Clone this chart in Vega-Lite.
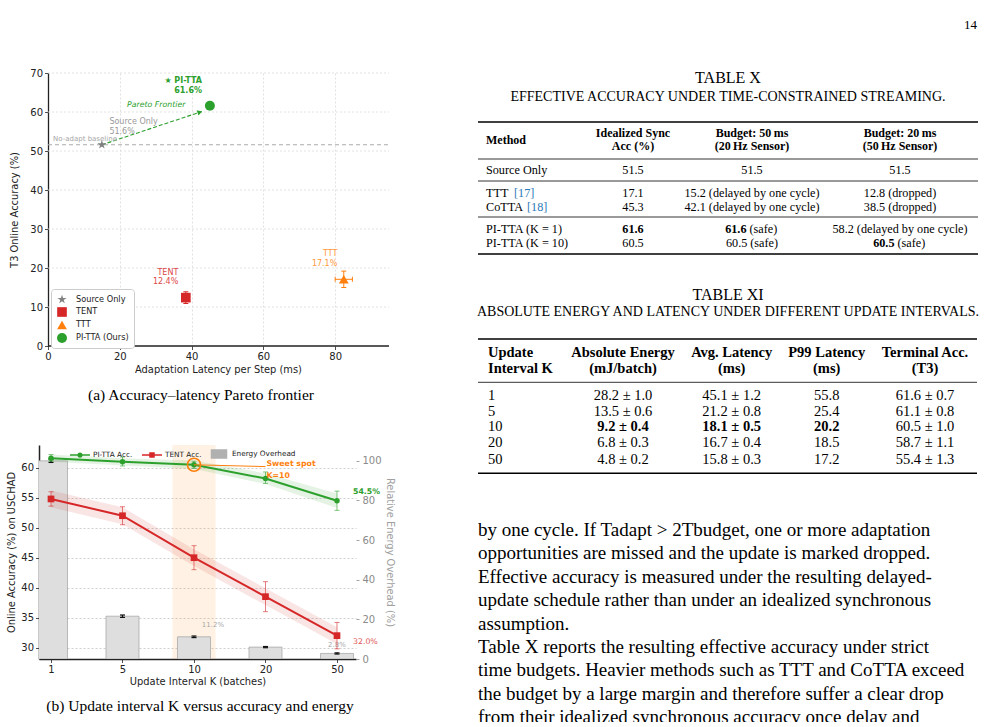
{
"$schema": "https://vega.github.io/schema/vega-lite/v6.json",
"padding": {"left": 6, "top": 19, "right": 0, "bottom": 0},
"title": {"text": "14", "anchor": "end", "frame": "bounds", "font": "Liberation Serif", "fontSize": 13, "fontWeight": "normal", "offset": 36, "dx": -3},
"datasets": {
"one": [{}],
"pointsA": [
{"method": "Source Only", "lat": 15.0, "acc": 51.6},
{"method": "TENT", "lat": 38.4, "acc": 12.4, "acc_lo": 10.9, "acc_hi": 13.9},
{"method": "TTT", "lat": 82.4, "acc": 17.1, "acc_lo": 15.0, "acc_hi": 19.2, "lat_lo": 80.0, "lat_hi": 84.8},
{"method": "PI-TTA (Ours)", "lat": 45.1, "acc": 61.6}
],
"gridA": [{"v": 10}, {"v": 20}, {"v": 30}, {"v": 40}, {"v": 50}, {"v": 60}, {"v": 70}],
"energyB": [
{"K": 1, "energy": 100, "lo": 99.2, "hi": 100.8, "label": ""},
{"K": 5, "energy": 21.6, "lo": 21.0, "hi": 22.2, "label": ""},
{"K": 10, "energy": 11.2, "lo": 10.8, "hi": 11.6, "label": "11.2%"},
{"K": 20, "energy": 6.0, "lo": 5.7, "hi": 6.3, "label": ""},
{"K": 50, "energy": 2.8, "lo": 2.5, "hi": 3.1, "label": "2.8%"}
],
"accB": [
{"K": 1, "series": "PI-TTA Acc.", "acc": 61.6, "lo": 61.1, "hi": 62.2, "band_lo": 61.0, "band_hi": 62.2},
{"K": 5, "series": "PI-TTA Acc.", "acc": 61.0, "lo": 60.3, "hi": 61.8, "band_lo": 60.4, "band_hi": 61.6},
{"K": 10, "series": "PI-TTA Acc.", "acc": 60.5, "lo": 59.9, "hi": 61.1, "band_lo": 59.8, "band_hi": 61.2},
{"K": 20, "series": "PI-TTA Acc.", "acc": 58.2, "lo": 57.4, "hi": 59.3, "band_lo": 57.3, "band_hi": 59.1},
{"K": 50, "series": "PI-TTA Acc.", "acc": 54.5, "lo": 52.9, "hi": 56.1, "band_lo": 53.3, "band_hi": 55.7},
{"K": 1, "series": "TENT Acc.", "acc": 54.8, "lo": 53.6, "hi": 56.0, "band_lo": 53.4, "band_hi": 56.2},
{"K": 5, "series": "TENT Acc.", "acc": 52.0, "lo": 50.5, "hi": 53.5, "band_lo": 50.6, "band_hi": 53.4},
{"K": 10, "series": "TENT Acc.", "acc": 45.0, "lo": 43.0, "hi": 47.0, "band_lo": 43.6, "band_hi": 46.4},
{"K": 20, "series": "TENT Acc.", "acc": 38.5, "lo": 36.0, "hi": 41.0, "band_lo": 37.1, "band_hi": 39.9},
{"K": 50, "series": "TENT Acc.", "acc": 32.0, "lo": 29.8, "hi": 34.2, "band_lo": 30.6, "band_hi": 33.4}
],
"legendB": [{"series": "PI-TTA Acc."}, {"series": "TENT Acc."}, {"series": "Energy Overhead"}],
"txRules": [{"r": 0, "kind": "toprule"}, {"r": 3, "kind": "midrule"}, {"r": 5, "kind": "midrule"}, {"r": 8, "kind": "midrule"}, {"r": 11, "kind": "bottomrule"}],
"txHead": [
{"r": 1.5, "c": 0, "t": "Method"},
{"r": 1, "c": 1, "t": "Idealized Sync"}, {"r": 2, "c": 1, "t": "Acc (%)"},
{"r": 1, "c": 2, "t": "Budget: 50\u2009ms"}, {"r": 2, "c": 2, "t": "(20\u2009Hz Sensor)"},
{"r": 1, "c": 3, "t": "Budget: 20\u2009ms"}, {"r": 2, "c": 3, "t": "(50\u2009Hz Sensor)"}
],
"txBody": [
{"r": 4, "c": 0, "t": "Source Only"}, {"r": 4, "c": 1, "t": "51.5"}, {"r": 4, "c": 2, "t": "51.5"}, {"r": 4, "c": 3, "t": "51.5"},
{"r": 6, "c": 0, "t": "TTT"}, {"r": 6, "c": 1, "t": "17.1"}, {"r": 6, "c": 2, "t": "15.2 (delayed by one cycle)"}, {"r": 6, "c": 3, "t": "12.8 (dropped)"},
{"r": 7, "c": 0, "t": "CoTTA"}, {"r": 7, "c": 1, "t": "45.3"}, {"r": 7, "c": 2, "t": "42.1 (delayed by one cycle)"}, {"r": 7, "c": 3, "t": "38.5 (dropped)"},
{"r": 9, "c": 0, "t": "PI-TTA (K = 1)"}, {"r": 9, "c": 3, "t": "58.2 (delayed by one cycle)"},
{"r": 10, "c": 0, "t": "PI-TTA (K = 10)"}, {"r": 10, "c": 1, "t": "60.5"}, {"r": 10, "c": 2, "t": "60.5 (safe)"}
],
"txCite": [{"r": 6, "ref": "[17]"}, {"r": 7, "ref": "[18]"}],
"txBest": [{"r": 9, "c": 1, "t": "61.6", "note": ""}, {"r": 9, "c": 2, "t": "61.6", "note": "(safe)"}, {"r": 10, "c": 3, "t": "60.5", "note": "(safe)"}],
"t11Rules": [{"r": 0, "kind": "toprule"}, {"r": 3, "kind": "midrule"}, {"r": 9, "kind": "bottomrule"}],
"t11Head": [
{"r": 1, "c": 0, "t": "Update"}, {"r": 2, "c": 0, "t": "Interval K"},
{"r": 1, "c": 1, "t": "Absolute Energy"}, {"r": 2, "c": 1, "t": "(mJ/batch)"},
{"r": 1, "c": 2, "t": "Avg. Latency"}, {"r": 2, "c": 2, "t": "(ms)"},
{"r": 1, "c": 3, "t": "P99 Latency"}, {"r": 2, "c": 3, "t": "(ms)"},
{"r": 1, "c": 4, "t": "Terminal Acc."}, {"r": 2, "c": 4, "t": "(T3)"}
],
"t11Body": [
{"r": 4, "c": 0, "t": "1", "best": false}, {"r": 4, "c": 1, "t": "28.2 ± 1.0", "best": false}, {"r": 4, "c": 2, "t": "45.1 ± 1.2", "best": false}, {"r": 4, "c": 3, "t": "55.8", "best": false}, {"r": 4, "c": 4, "t": "61.6 ± 0.7", "best": false},
{"r": 5, "c": 0, "t": "5", "best": false}, {"r": 5, "c": 1, "t": "13.5 ± 0.6", "best": false}, {"r": 5, "c": 2, "t": "21.2 ± 0.8", "best": false}, {"r": 5, "c": 3, "t": "25.4", "best": false}, {"r": 5, "c": 4, "t": "61.1 ± 0.8", "best": false},
{"r": 6, "c": 0, "t": "10", "best": false}, {"r": 6, "c": 1, "t": "9.2 ± 0.4", "best": true}, {"r": 6, "c": 2, "t": "18.1 ± 0.5", "best": true}, {"r": 6, "c": 3, "t": "20.2", "best": true}, {"r": 6, "c": 4, "t": "60.5 ± 1.0", "best": false},
{"r": 7, "c": 0, "t": "20", "best": false}, {"r": 7, "c": 1, "t": "6.8 ± 0.3", "best": false}, {"r": 7, "c": 2, "t": "16.7 ± 0.4", "best": false}, {"r": 7, "c": 3, "t": "18.5", "best": false}, {"r": 7, "c": 4, "t": "58.7 ± 1.1", "best": false},
{"r": 8, "c": 0, "t": "50", "best": false}, {"r": 8, "c": 1, "t": "4.8 ± 0.2", "best": false}, {"r": 8, "c": 2, "t": "15.8 ± 0.3", "best": false}, {"r": 8, "c": 3, "t": "17.2", "best": false}, {"r": 8, "c": 4, "t": "55.4 ± 1.3", "best": false}
],
"para": [
{"line": 0, "text": "by one cycle. If Tadapt > 2Tbudget, one or more adaptation"},
{"line": 1, "text": "opportunities are missed and the update is marked dropped."},
{"line": 2, "text": "Effective accuracy is measured under the resulting delayed-"},
{"line": 3, "text": "update schedule rather than under an idealized synchronous"},
{"line": 4, "text": "assumption."},
{"line": 5, "text": "\u2002Table X reports the resulting effective accuracy under strict"},
{"line": 6, "text": "time budgets. Heavier methods such as TTT and CoTTA exceed"},
{"line": 7, "text": "the budget by a large margin and therefore suffer a clear drop"},
{"line": 8, "text": "from their idealized synchronous accuracy once delay and"}
]
},
"spacing": 80,
"resolve": {"scale": {"color": "independent", "shape": "independent", "size": "independent"}},
"hconcat": [
{
"spacing": 99,
"bounds": "flush",
"resolve": {"scale": {"color": "independent", "shape": "independent", "size": "independent"}},
"vconcat": [
{
"width": 350, "height": 273,
"title": {"text": "(a) Accuracy\u2013latency Pareto frontier", "orient": "bottom", "frame": "group", "anchor": "middle", "dx": -13, "offset": 14, "fontSize": 15.5},
"resolve": {"scale": {"x": "independent", "y": "independent"}},
"layer": [
{
"data": {"name": "gridA"},
"mark": {"type": "rule", "stroke": "#d9d9d9", "strokeDash": [2, 2], "strokeWidth": 0.8},
"encoding": {
"y": {"field": "v", "type": "quantitative", "scale": {"domain": [0, 70], "nice": false, "zero": false}, "axis": null},
"x": {"datum": 0, "type": "quantitative", "scale": {"domain": [-2.507, 95], "nice": false, "zero": false}, "axis": null},
"x2": {"datum": 95}
}
},
{"data": {"name": "one"}, "mark": {"type": "rule", "stroke": "#222222", "strokeWidth": 1.3}, "encoding": {"x": {"datum": 0, "type": "quantitative", "scale": {"domain": [-2.507, 95], "nice": false, "zero": false}, "axis": null}, "x2": {"datum": 95}, "y": {"datum": 0, "type": "quantitative", "scale": {"domain": [0, 70], "nice": false, "zero": false}, "axis": null}}},
{"data": {"name": "one"}, "mark": {"type": "rule", "stroke": "#aaaaaa", "strokeDash": [4, 3], "strokeWidth": 1}, "encoding": {"x": {"datum": 0, "type": "quantitative", "scale": {"domain": [-2.507, 95], "nice": false, "zero": false}, "axis": null}, "x2": {"datum": 95}, "y": {"datum": 51.6, "type": "quantitative", "scale": {"domain": [0, 70], "nice": false, "zero": false}, "axis": null}}},
{"data": {"name": "one"}, "mark": {"type": "rule", "stroke": "#2ca02c", "strokeDash": [4, 2], "strokeWidth": 1.1}, "encoding": {"x": {"datum": 15.0, "type": "quantitative", "scale": {"domain": [-2.507, 95], "nice": false, "zero": false}, "axis": null}, "y": {"datum": 51.6, "type": "quantitative", "scale": {"domain": [0, 70], "nice": false, "zero": false}, "axis": null}, "x2": {"datum": 42.8}, "y2": {"datum": 60.1}}},
{"data": {"name": "one"}, "mark": {"type": "point", "shape": "triangle-right", "angle": -18.5, "size": 30, "filled": true, "color": "#2ca02c", "opacity": 1}, "encoding": {"x": {"datum": 42.3, "type": "quantitative", "scale": {"domain": [-2.507, 95], "nice": false, "zero": false}, "axis": null}, "y": {"datum": 59.95, "type": "quantitative", "scale": {"domain": [0, 70], "nice": false, "zero": false}, "axis": null}}},
{"data": {"name": "pointsA"}, "transform": [{"filter": "datum.method === 'TENT'"}], "mark": {"type": "rule", "color": "#d62728", "strokeWidth": 1}, "encoding": {"x": {"field": "lat", "type": "quantitative", "scale": {"domain": [-2.507, 95], "nice": false, "zero": false}, "axis": null}, "y": {"field": "acc_lo", "type": "quantitative", "scale": {"domain": [0, 70], "nice": false, "zero": false}, "axis": null}, "y2": {"field": "acc_hi"}}},
{"data": {"name": "pointsA"}, "transform": [{"filter": "datum.method === 'TENT'"}], "mark": {"type": "tick", "orient": "horizontal", "color": "#d62728", "size": 5, "thickness": 1, "opacity": 1}, "encoding": {"x": {"field": "lat", "type": "quantitative", "scale": {"domain": [-2.507, 95], "nice": false, "zero": false}, "axis": null}, "y": {"field": "acc_lo", "type": "quantitative", "scale": {"domain": [0, 70], "nice": false, "zero": false}, "axis": null}}},
{"data": {"name": "pointsA"}, "transform": [{"filter": "datum.method === 'TENT'"}], "mark": {"type": "tick", "orient": "horizontal", "color": "#d62728", "size": 5, "thickness": 1, "opacity": 1}, "encoding": {"x": {"field": "lat", "type": "quantitative", "scale": {"domain": [-2.507, 95], "nice": false, "zero": false}, "axis": null}, "y": {"field": "acc_hi", "type": "quantitative", "scale": {"domain": [0, 70], "nice": false, "zero": false}, "axis": null}}},
{"data": {"name": "pointsA"}, "transform": [{"filter": "datum.method === 'TTT'"}], "mark": {"type": "rule", "color": "#ff7f0e", "strokeWidth": 1}, "encoding": {"x": {"field": "lat", "type": "quantitative", "scale": {"domain": [-2.507, 95], "nice": false, "zero": false}, "axis": null}, "y": {"field": "acc_lo", "type": "quantitative", "scale": {"domain": [0, 70], "nice": false, "zero": false}, "axis": null}, "y2": {"field": "acc_hi"}}},
{"data": {"name": "pointsA"}, "transform": [{"filter": "datum.method === 'TTT'"}], "mark": {"type": "rule", "color": "#ff7f0e", "strokeWidth": 1}, "encoding": {"x": {"field": "lat_lo", "type": "quantitative", "scale": {"domain": [-2.507, 95], "nice": false, "zero": false}, "axis": null}, "x2": {"field": "lat_hi"}, "y": {"field": "acc", "type": "quantitative", "scale": {"domain": [0, 70], "nice": false, "zero": false}, "axis": null}}},
{"data": {"name": "pointsA"}, "transform": [{"filter": "datum.method === 'TTT'"}], "mark": {"type": "tick", "orient": "horizontal", "color": "#ff7f0e", "size": 5, "thickness": 1, "opacity": 1}, "encoding": {"x": {"field": "lat", "type": "quantitative", "scale": {"domain": [-2.507, 95], "nice": false, "zero": false}, "axis": null}, "y": {"field": "acc_lo", "type": "quantitative", "scale": {"domain": [0, 70], "nice": false, "zero": false}, "axis": null}}},
{"data": {"name": "pointsA"}, "transform": [{"filter": "datum.method === 'TTT'"}], "mark": {"type": "tick", "orient": "horizontal", "color": "#ff7f0e", "size": 5, "thickness": 1, "opacity": 1}, "encoding": {"x": {"field": "lat", "type": "quantitative", "scale": {"domain": [-2.507, 95], "nice": false, "zero": false}, "axis": null}, "y": {"field": "acc_hi", "type": "quantitative", "scale": {"domain": [0, 70], "nice": false, "zero": false}, "axis": null}}},
{"data": {"name": "pointsA"}, "transform": [{"filter": "datum.method === 'TTT'"}], "mark": {"type": "tick", "orient": "vertical", "color": "#ff7f0e", "size": 5, "thickness": 1, "opacity": 1}, "encoding": {"x": {"field": "lat_lo", "type": "quantitative", "scale": {"domain": [-2.507, 95], "nice": false, "zero": false}, "axis": null}, "y": {"field": "acc", "type": "quantitative", "scale": {"domain": [0, 70], "nice": false, "zero": false}, "axis": null}}},
{"data": {"name": "pointsA"}, "transform": [{"filter": "datum.method === 'TTT'"}], "mark": {"type": "tick", "orient": "vertical", "color": "#ff7f0e", "size": 5, "thickness": 1, "opacity": 1}, "encoding": {"x": {"field": "lat_hi", "type": "quantitative", "scale": {"domain": [-2.507, 95], "nice": false, "zero": false}, "axis": null}, "y": {"field": "acc", "type": "quantitative", "scale": {"domain": [0, 70], "nice": false, "zero": false}, "axis": null}}},
{
"data": {"name": "pointsA"},
"mark": {"type": "point", "filled": true, "opacity": 1, "strokeWidth": 0},
"encoding": {
"x": {"field": "lat", "type": "quantitative", "scale": {"domain": [-2.507, 95], "nice": false, "zero": false}, "axis": {"values": [0, 20, 40, 60, 80], "title": "Adaptation Latency per Step (ms)", "domain": false, "grid": true, "gridDash": [2, 2], "gridColor": "#d9d9d9", "gridWidth": 0.8, "titlePadding": 2.5, "titleX": 179, "labelOverlap": false, "labelFlush": false}},
"y": {"field": "acc", "type": "quantitative", "scale": {"domain": [0, 70], "nice": false, "zero": false}, "axis": {"values": [0, 10, 20, 30, 40, 50, 60, 70], "title": "T3 Online Accuracy (%)", "offset": -9, "titlePadding": 10, "domainWidth": 1.3, "labelOverlap": false, "labelFlush": false}},
"color": {"field": "method", "type": "nominal", "scale": {"domain": ["Source Only", "TENT", "TTT", "PI-TTA (Ours)"], "range": ["#808080", "#d62728", "#ff7f0e", "#2ca02c"]},
"legend": {"title": null, "orient": "none", "legendX": 12, "legendY": 216, "labelFont": "DejaVu Sans", "labelFontSize": 8.2, "labelColor": "#222222", "strokeColor": "#cccccc", "fillColor": "white", "padding": 5, "cornerRadius": 3, "rowPadding": 2, "labelOffset": 8}},
"shape": {"field": "method", "type": "nominal", "scale": {"domain": ["Source Only", "TENT", "TTT", "PI-TTA (Ours)"], "range": ["M0,-1L0.225,-0.309L0.951,-0.309L0.363,0.118L0.588,0.809L0,0.382L-0.588,0.809L-0.363,0.118L-0.951,-0.309L-0.225,-0.309Z", "square", "triangle-up", "circle"]}},
"size": {"field": "method", "type": "nominal", "scale": {"domain": ["Source Only", "TENT", "TTT", "PI-TTA (Ours)"], "range": [90, 100, 120, 177]}}
}
},
{"data": {"name": "one"}, "mark": {"type": "text", "text": "No-adapt baseline", "align": "left", "baseline": "middle", "fontSize": 7, "color": "#a6a6a6"}, "encoding": {"x": {"datum": 1.4, "type": "quantitative", "scale": {"domain": [-2.507, 95], "nice": false, "zero": false}, "axis": null}, "y": {"datum": 53.0, "type": "quantitative", "scale": {"domain": [0, 70], "nice": false, "zero": false}, "axis": null}}},
{"data": {"name": "one"}, "mark": {"type": "text", "text": ["Source Only", "51.6%"], "align": "left", "baseline": "top", "lineHeight": 10.5, "fontSize": 8, "color": "#999999"}, "encoding": {"x": {"datum": 17.1, "type": "quantitative", "scale": {"domain": [-2.507, 95], "nice": false, "zero": false}, "axis": null}, "y": {"datum": 58.5, "type": "quantitative", "scale": {"domain": [0, 70], "nice": false, "zero": false}, "axis": null}}},
{"data": {"name": "one"}, "mark": {"type": "text", "text": "Pareto Frontier", "align": "left", "baseline": "middle", "fontSize": 7.8, "fontStyle": "italic", "color": "#2ca02c"}, "encoding": {"x": {"datum": 22.0, "type": "quantitative", "scale": {"domain": [-2.507, 95], "nice": false, "zero": false}, "axis": null}, "y": {"datum": 61.8, "type": "quantitative", "scale": {"domain": [0, 70], "nice": false, "zero": false}, "axis": null}}},
{"data": {"name": "one"}, "mark": {"type": "text", "text": ["\u2605 PI-TTA", "61.6%"], "align": "right", "baseline": "top", "lineHeight": 10.5, "fontSize": 8, "fontWeight": "bold", "color": "#2ca02c"}, "encoding": {"x": {"datum": 42.9, "type": "quantitative", "scale": {"domain": [-2.507, 95], "nice": false, "zero": false}, "axis": null}, "y": {"datum": 69.05, "type": "quantitative", "scale": {"domain": [0, 70], "nice": false, "zero": false}, "axis": null}}},
{"data": {"name": "one"}, "mark": {"type": "text", "text": ["TENT", "12.4%"], "align": "right", "baseline": "top", "lineHeight": 9.5, "fontSize": 8, "color": "#dc4748"}, "encoding": {"x": {"datum": 36.3, "type": "quantitative", "scale": {"domain": [-2.507, 95], "nice": false, "zero": false}, "axis": null}, "y": {"datum": 19.8, "type": "quantitative", "scale": {"domain": [0, 70], "nice": false, "zero": false}, "axis": null}}},
{"data": {"name": "one"}, "mark": {"type": "text", "text": ["TTT", "17.1%"], "align": "right", "baseline": "top", "lineHeight": 9.5, "fontSize": 8, "color": "#ff9a3c"}, "encoding": {"x": {"datum": 80.6, "type": "quantitative", "scale": {"domain": [-2.507, 95], "nice": false, "zero": false}, "axis": null}, "y": {"datum": 24.5, "type": "quantitative", "scale": {"domain": [0, 70], "nice": false, "zero": false}, "axis": null}}}
]
},
{
"width": 317, "height": 214,
"title": {"text": "(b) Update interval K versus accuracy and energy", "orient": "bottom", "frame": "group", "anchor": "middle", "dx": 2.5, "offset": 13, "fontSize": 15.5},
"resolve": {"scale": {"x": "independent", "y": "independent"}},
"layer": [
{"data": {"name": "legendB"}, "mark": {"type": "point", "filled": false, "opacity": 0}, "encoding": {
"x": {"datum": 1, "type": "ordinal", "scale": {"type": "point", "domain": [1, 5, 10, 20, 50], "padding": 0.2168, "align": 0.387}, "axis": null},
"y": {"datum": 40, "type": "quantitative", "scale": {"domain": [28.1, 63.8], "nice": false, "zero": false}, "axis": null},
"color": {"field": "series", "type": "nominal", "scale": {"domain": ["PI-TTA Acc.", "TENT Acc.", "Energy Overhead"], "range": ["#2ca02c", "#d62728", "#b0b0b0"]},
"legend": {"title": null, "orient": "none", "legendX": 30, "legendY": -2, "direction": "horizontal", "columns": 3, "symbolSize": 400, "labelFont": "DejaVu Sans", "labelFontSize": 7.3, "labelColor": "#222222", "columnPadding": 6, "labelOffset": 2, "padding": 0,
"encode": {"symbols": {"update": {"opacity": {"value": 1},
"stroke": [{"test": "datum.value === 'PI-TTA Acc.'", "value": "#2ca02c"}, {"test": "datum.value === 'TENT Acc.'", "value": "#d62728"}, {"value": "#aaaaaa"}],
"fill": [{"test": "datum.value === 'Energy Overhead'", "value": "#dedede"}, {"value": "transparent"}],
"strokeWidth": [{"test": "datum.value === 'Energy Overhead'", "value": 0.8}, {"value": 2}]}}}}},
"shape": {"field": "series", "type": "nominal", "scale": {"domain": ["PI-TTA Acc.", "TENT Acc.", "Energy Overhead"], "range": ["M-1,0L1,0M0.18,0A0.18,0.18,0,1,1,-0.18,0A0.18,0.18,0,1,1,0.18,0Z", "M-1,0L1,0M-0.2,-0.2L0.2,-0.2L0.2,0.2L-0.2,0.2Z", "M-0.75,-0.4L0.75,-0.4L0.75,0.4L-0.75,0.4Z"]}}
}},
{"data": {"name": "one"}, "mark": {"type": "bar", "size": 43, "color": "#ffa94d", "opacity": 0.15}, "encoding": {
"x": {"datum": 10, "type": "ordinal", "scale": {"type": "point", "domain": [1, 5, 10, 20, 50], "padding": 0.2168, "align": 0.387}, "axis": null},
"y": {"datum": 108, "type": "quantitative", "scale": {"domain": [0, 108], "nice": false, "zero": false}, "axis": null},
"y2": {"datum": 0}}},
{"data": {"name": "energyB"}, "mark": {"type": "bar", "size": 33, "fill": "#dedede", "stroke": "#aaaaaa", "strokeWidth": 0.8, "clip": true}, "encoding": {
"x": {"field": "K", "type": "ordinal", "scale": {"type": "point", "domain": [1, 5, 10, 20, 50], "padding": 0.2168, "align": 0.387}, "axis": {"title": "Update Interval K (batches)", "labelAngle": 0, "domainWidth": 1.5, "titlePadding": 1.5, "labelPadding": 2}},
"y": {"field": "energy", "type": "quantitative", "scale": {"domain": [0, 108], "nice": false, "zero": false}, "axis": {"orient": "right", "values": [0, 20, 40, 60, 80, 100], "title": "Relative Energy Overhead (%)", "domain": false, "labelColor": "#8a8a8a", "tickColor": "#8a8a8a", "titleColor": "#a0a0a0", "labelPadding": 3, "titlePadding": 3, "tickSize": 3, "grid": false, "labelOverlap": false, "labelFlush": false}}}},
{"data": {"name": "energyB"}, "mark": {"type": "rule", "color": "#111111", "strokeWidth": 1.2}, "encoding": {"x": {"field": "K", "type": "ordinal", "scale": {"type": "point", "domain": [1, 5, 10, 20, 50], "padding": 0.2168, "align": 0.387}, "axis": null}, "y": {"field": "lo", "type": "quantitative", "scale": {"domain": [0, 108], "nice": false, "zero": false}, "axis": null}, "y2": {"field": "hi"}}},
{"data": {"name": "energyB"}, "mark": {"type": "tick", "orient": "horizontal", "color": "#111111", "size": 5, "thickness": 1.2, "opacity": 1}, "encoding": {"x": {"field": "K", "type": "ordinal", "scale": {"type": "point", "domain": [1, 5, 10, 20, 50], "padding": 0.2168, "align": 0.387}, "axis": null}, "y": {"field": "lo", "type": "quantitative", "scale": {"domain": [0, 108], "nice": false, "zero": false}, "axis": null}}},
{"data": {"name": "energyB"}, "mark": {"type": "tick", "orient": "horizontal", "color": "#111111", "size": 5, "thickness": 1.2, "opacity": 1}, "encoding": {"x": {"field": "K", "type": "ordinal", "scale": {"type": "point", "domain": [1, 5, 10, 20, 50], "padding": 0.2168, "align": 0.387}, "axis": null}, "y": {"field": "hi", "type": "quantitative", "scale": {"domain": [0, 108], "nice": false, "zero": false}, "axis": null}}},
{"data": {"name": "energyB"}, "transform": [{"filter": "datum.K === 10"}], "mark": {"type": "text", "fontSize": 7, "color": "#a8a8a8", "dx": 19, "dy": -11.5, "baseline": "middle"}, "encoding": {"x": {"field": "K", "type": "ordinal", "scale": {"type": "point", "domain": [1, 5, 10, 20, 50], "padding": 0.2168, "align": 0.387}, "axis": null}, "y": {"field": "energy", "type": "quantitative", "scale": {"domain": [0, 108], "nice": false, "zero": false}, "axis": null}, "text": {"field": "label"}}},
{"data": {"name": "energyB"}, "transform": [{"filter": "datum.K === 50"}], "mark": {"type": "text", "fontSize": 7, "color": "#a8a8a8", "dx": 0, "dy": -8.5, "baseline": "middle"}, "encoding": {"x": {"field": "K", "type": "ordinal", "scale": {"type": "point", "domain": [1, 5, 10, 20, 50], "padding": 0.2168, "align": 0.387}, "axis": null}, "y": {"field": "energy", "type": "quantitative", "scale": {"domain": [0, 108], "nice": false, "zero": false}, "axis": null}, "text": {"field": "label"}}},
{"data": {"name": "accB"}, "mark": {"type": "area", "opacity": 0.12}, "encoding": {
"x": {"field": "K", "type": "ordinal", "scale": {"type": "point", "domain": [1, 5, 10, 20, 50], "padding": 0.2168, "align": 0.387}, "axis": null},
"y": {"field": "band_lo", "type": "quantitative", "scale": {"domain": [28.1, 63.8], "nice": false, "zero": false}, "axis": {"orient": "left", "values": [30, 35, 40, 45, 50, 55, 60], "title": "Online Accuracy (%) on USCHAD", "grid": true, "gridDash": [2, 2], "gridColor": "#cfcfcf", "titlePadding": 4, "domainWidth": 1.5, "labelOverlap": false, "labelFlush": false}},
"y2": {"field": "band_hi"},
"color": {"field": "series", "type": "nominal"}}},
{"data": {"name": "accB"}, "mark": {"type": "line", "strokeWidth": 2}, "encoding": {
"x": {"field": "K", "type": "ordinal", "scale": {"type": "point", "domain": [1, 5, 10, 20, 50], "padding": 0.2168, "align": 0.387}, "axis": null},
"y": {"field": "acc", "type": "quantitative", "scale": {"domain": [28.1, 63.8], "nice": false, "zero": false}, "axis": null},
"color": {"field": "series", "type": "nominal"}}},
{"data": {"name": "accB"}, "mark": {"type": "rule", "strokeWidth": 1, "opacity": 0.6}, "encoding": {
"x": {"field": "K", "type": "ordinal", "scale": {"type": "point", "domain": [1, 5, 10, 20, 50], "padding": 0.2168, "align": 0.387}, "axis": null},
"y": {"field": "lo", "type": "quantitative", "scale": {"domain": [28.1, 63.8], "nice": false, "zero": false}, "axis": null}, "y2": {"field": "hi"},
"color": {"field": "series", "type": "nominal"}}},
{"data": {"name": "accB"}, "mark": {"type": "tick", "orient": "horizontal", "size": 5, "thickness": 1, "opacity": 0.6}, "encoding": {
"x": {"field": "K", "type": "ordinal", "scale": {"type": "point", "domain": [1, 5, 10, 20, 50], "padding": 0.2168, "align": 0.387}, "axis": null},
"y": {"field": "lo", "type": "quantitative", "scale": {"domain": [28.1, 63.8], "nice": false, "zero": false}, "axis": null},
"color": {"field": "series", "type": "nominal"}}},
{"data": {"name": "accB"}, "mark": {"type": "tick", "orient": "horizontal", "size": 5, "thickness": 1, "opacity": 0.6}, "encoding": {
"x": {"field": "K", "type": "ordinal", "scale": {"type": "point", "domain": [1, 5, 10, 20, 50], "padding": 0.2168, "align": 0.387}, "axis": null},
"y": {"field": "hi", "type": "quantitative", "scale": {"domain": [28.1, 63.8], "nice": false, "zero": false}, "axis": null},
"color": {"field": "series", "type": "nominal"}}},
{"data": {"name": "accB"}, "transform": [{"filter": "datum.series === 'PI-TTA Acc.'"}], "mark": {"type": "point", "shape": "circle", "filled": true, "size": 30, "opacity": 1, "color": "#2ca02c"}, "encoding": {
"x": {"field": "K", "type": "ordinal", "scale": {"type": "point", "domain": [1, 5, 10, 20, 50], "padding": 0.2168, "align": 0.387}, "axis": null},
"y": {"field": "acc", "type": "quantitative", "scale": {"domain": [28.1, 63.8], "nice": false, "zero": false}, "axis": null}}},
{"data": {"name": "accB"}, "transform": [{"filter": "datum.series === 'TENT Acc.'"}], "mark": {"type": "point", "shape": "square", "filled": true, "size": 45, "opacity": 1, "color": "#d62728"}, "encoding": {
"x": {"field": "K", "type": "ordinal", "scale": {"type": "point", "domain": [1, 5, 10, 20, 50], "padding": 0.2168, "align": 0.387}, "axis": null},
"y": {"field": "acc", "type": "quantitative", "scale": {"domain": [28.1, 63.8], "nice": false, "zero": false}, "axis": null}}},
{"data": {"name": "one"}, "mark": {"type": "point", "shape": "circle", "size": 169, "filled": false, "stroke": "#ff7f0e", "strokeWidth": 1.6, "opacity": 1}, "encoding": {"x": {"datum": 10, "type": "ordinal", "scale": {"type": "point", "domain": [1, 5, 10, 20, 50], "padding": 0.2168, "align": 0.387}, "axis": null}, "y": {"datum": 60.5, "type": "quantitative", "scale": {"domain": [28.1, 63.8], "nice": false, "zero": false}, "axis": null}}},
{"data": {"name": "one"}, "mark": {"type": "rule", "stroke": "#ff7f0e", "strokeWidth": 1}, "encoding": {"x": {"datum": 10, "type": "ordinal", "scale": {"type": "point", "domain": [1, 5, 10, 20, 50], "padding": 0.2168, "align": 0.387}, "axis": null}, "x2": {"datum": 20}, "y": {"datum": 60.5, "type": "quantitative", "scale": {"domain": [28.1, 63.8], "nice": false, "zero": false}, "axis": null}, "y2": {"datum": 60.2}}},
{"data": {"name": "one"}, "mark": {"type": "text", "text": ["Sweet spot", "K=10"], "align": "left", "baseline": "top", "lineHeight": 12.5, "fontSize": 7.8, "fontWeight": "bold", "color": "#ff7f0e", "dx": 1}, "encoding": {"x": {"datum": 20, "type": "ordinal", "scale": {"type": "point", "domain": [1, 5, 10, 20, 50], "padding": 0.2168, "align": 0.387}, "axis": null}, "y": {"datum": 61.35, "type": "quantitative", "scale": {"domain": [28.1, 63.8], "nice": false, "zero": false}, "axis": null}}},
{"data": {"name": "one"}, "mark": {"type": "text", "text": "54.5%", "align": "left", "baseline": "middle", "fontSize": 7.8, "fontWeight": "bold", "color": "#2ca02c", "dx": 16}, "encoding": {"x": {"datum": 50, "type": "ordinal", "scale": {"type": "point", "domain": [1, 5, 10, 20, 50], "padding": 0.2168, "align": 0.387}, "axis": null}, "y": {"datum": 55.9, "type": "quantitative", "scale": {"domain": [28.1, 63.8], "nice": false, "zero": false}, "axis": null}}},
{"data": {"name": "one"}, "mark": {"type": "text", "text": "32.0%", "align": "left", "baseline": "middle", "fontSize": 7.8, "color": "#e05555", "dx": 16}, "encoding": {"x": {"datum": 50, "type": "ordinal", "scale": {"type": "point", "domain": [1, 5, 10, 20, 50], "padding": 0.2168, "align": 0.387}, "axis": null}, "y": {"datum": 30.9, "type": "quantitative", "scale": {"domain": [28.1, 63.8], "nice": false, "zero": false}, "axis": null}}}
]
}
]
},
{
"width": 500, "height": 649,
"resolve": {"scale": {"x": "independent", "y": "independent"}},
"layer": [
{"data": {"name": "one"}, "mark": {"type": "text", "text": "TABLE X", "align": "center", "baseline": "middle", "font": "Liberation Serif", "fontSize": 16}, "encoding": {
"x": {"datum": 0.5, "type": "quantitative", "scale": {"domain": [0, 1], "range": [0, 500], "nice": false, "zero": false}, "axis": null},
"y": {"datum": -2, "type": "quantitative", "scale": {"domain": [-2, -1, 0, 1, 2, 3, 4, 5, 6, 7, 8, 9, 10, 11], "range": [5, 24, 49, 60, 73, 86, 97, 108, 120, 134, 144, 156, 170, 181], "nice": false, "zero": false}, "axis": null}}},
{"data": {"name": "one"}, "mark": {"type": "text", "text": "EFFECTIVE ACCURACY UNDER TIME-CONSTRAINED STREAMING.", "align": "center", "baseline": "middle", "font": "Liberation Serif", "fontSize": 14}, "encoding": {
"x": {"datum": 0.5, "type": "quantitative", "scale": {"domain": [0, 1], "range": [0, 500], "nice": false, "zero": false}, "axis": null},
"y": {"datum": -1, "type": "quantitative", "scale": {"domain": [-2, -1, 0, 1, 2, 3, 4, 5, 6, 7, 8, 9, 10, 11], "range": [5, 24, 49, 60, 73, 86, 97, 108, 120, 134, 144, 156, 170, 181], "nice": false, "zero": false}, "axis": null}}},
{"data": {"name": "txRules"}, "transform": [{"filter": "datum.kind === 'midrule'"}], "mark": {"type": "rule", "color": "black", "strokeWidth": 0.8}, "encoding": {
"y": {"field": "r", "type": "quantitative", "scale": {"domain": [-2, -1, 0, 1, 2, 3, 4, 5, 6, 7, 8, 9, 10, 11], "range": [5, 24, 49, 60, 73, 86, 97, 108, 120, 134, 144, 156, 170, 181], "nice": false, "zero": false}, "axis": null},
"x": {"datum": -1, "type": "quantitative", "scale": {"domain": [-1, 0, 1, 2, 3, 4], "range": [0, 8, 155, 274, 422, 500], "nice": false, "zero": false}, "axis": null},
"x2": {"datum": 4}}},
{"data": {"name": "txRules"}, "transform": [{"filter": "datum.kind !== 'midrule'"}], "mark": {"type": "rule", "color": "black", "strokeWidth": 1.6}, "encoding": {
"y": {"field": "r", "type": "quantitative", "scale": {"domain": [-2, -1, 0, 1, 2, 3, 4, 5, 6, 7, 8, 9, 10, 11], "range": [5, 24, 49, 60, 73, 86, 97, 108, 120, 134, 144, 156, 170, 181], "nice": false, "zero": false}, "axis": null},
"x": {"datum": -1, "type": "quantitative", "scale": {"domain": [-1, 0, 1, 2, 3, 4], "range": [0, 8, 155, 274, 422, 500], "nice": false, "zero": false}, "axis": null},
"x2": {"datum": 4}}},
{"data": {"name": "txHead"}, "transform": [{"filter": "datum.c === 0"}], "mark": {"type": "text", "align": "left", "baseline": "middle", "font": "Liberation Serif", "fontSize": 12, "fontWeight": "bold"}, "encoding": {
"x": {"field": "c", "type": "quantitative", "scale": {"domain": [-1, 0, 1, 2, 3, 4], "range": [0, 8, 155, 274, 422, 500], "nice": false, "zero": false}, "axis": null},
"y": {"field": "r", "type": "quantitative", "scale": {"domain": [-2, -1, 0, 1, 2, 3, 4, 5, 6, 7, 8, 9, 10, 11], "range": [5, 24, 49, 60, 73, 86, 97, 108, 120, 134, 144, 156, 170, 181], "nice": false, "zero": false}, "axis": null},
"text": {"field": "t"}}},
{"data": {"name": "txHead"}, "transform": [{"filter": "datum.c > 0"}], "mark": {"type": "text", "align": "center", "baseline": "middle", "font": "Liberation Serif", "fontSize": 12, "fontWeight": "bold"}, "encoding": {
"x": {"field": "c", "type": "quantitative", "scale": {"domain": [-1, 0, 1, 2, 3, 4], "range": [0, 8, 155, 274, 422, 500], "nice": false, "zero": false}, "axis": null},
"y": {"field": "r", "type": "quantitative", "scale": {"domain": [-2, -1, 0, 1, 2, 3, 4, 5, 6, 7, 8, 9, 10, 11], "range": [5, 24, 49, 60, 73, 86, 97, 108, 120, 134, 144, 156, 170, 181], "nice": false, "zero": false}, "axis": null},
"text": {"field": "t"}}},
{"data": {"name": "txBody"}, "transform": [{"filter": "datum.c === 0"}], "mark": {"type": "text", "align": "left", "baseline": "middle", "font": "Liberation Serif", "fontSize": 12.2}, "encoding": {
"x": {"field": "c", "type": "quantitative", "scale": {"domain": [-1, 0, 1, 2, 3, 4], "range": [0, 8, 155, 274, 422, 500], "nice": false, "zero": false}, "axis": null},
"y": {"field": "r", "type": "quantitative", "scale": {"domain": [-2, -1, 0, 1, 2, 3, 4, 5, 6, 7, 8, 9, 10, 11], "range": [5, 24, 49, 60, 73, 86, 97, 108, 120, 134, 144, 156, 170, 181], "nice": false, "zero": false}, "axis": null},
"text": {"field": "t"}}},
{"data": {"name": "txBody"}, "transform": [{"filter": "datum.c > 0"}], "mark": {"type": "text", "align": "center", "baseline": "middle", "font": "Liberation Serif", "fontSize": 12.2}, "encoding": {
"x": {"field": "c", "type": "quantitative", "scale": {"domain": [-1, 0, 1, 2, 3, 4], "range": [0, 8, 155, 274, 422, 500], "nice": false, "zero": false}, "axis": null},
"y": {"field": "r", "type": "quantitative", "scale": {"domain": [-2, -1, 0, 1, 2, 3, 4, 5, 6, 7, 8, 9, 10, 11], "range": [5, 24, 49, 60, 73, 86, 97, 108, 120, 134, 144, 156, 170, 181], "nice": false, "zero": false}, "axis": null},
"text": {"field": "t"}}},
{"data": {"name": "txCite"}, "transform": [{"filter": "datum.r === 6"}], "mark": {"type": "text", "align": "left", "baseline": "middle", "font": "Liberation Serif", "fontSize": 12.2, "color": "#2a7ab8", "dx": 28}, "encoding": {
"x": {"datum": 0, "type": "quantitative", "scale": {"domain": [-1, 0, 1, 2, 3, 4], "range": [0, 8, 155, 274, 422, 500], "nice": false, "zero": false}, "axis": null},
"y": {"field": "r", "type": "quantitative", "scale": {"domain": [-2, -1, 0, 1, 2, 3, 4, 5, 6, 7, 8, 9, 10, 11], "range": [5, 24, 49, 60, 73, 86, 97, 108, 120, 134, 144, 156, 170, 181], "nice": false, "zero": false}, "axis": null},
"text": {"field": "ref"}}},
{"data": {"name": "txCite"}, "transform": [{"filter": "datum.r === 7"}], "mark": {"type": "text", "align": "left", "baseline": "middle", "font": "Liberation Serif", "fontSize": 12.2, "color": "#2a7ab8", "dx": 41}, "encoding": {
"x": {"datum": 0, "type": "quantitative", "scale": {"domain": [-1, 0, 1, 2, 3, 4], "range": [0, 8, 155, 274, 422, 500], "nice": false, "zero": false}, "axis": null},
"y": {"field": "r", "type": "quantitative", "scale": {"domain": [-2, -1, 0, 1, 2, 3, 4, 5, 6, 7, 8, 9, 10, 11], "range": [5, 24, 49, 60, 73, 86, 97, 108, 120, 134, 144, 156, 170, 181], "nice": false, "zero": false}, "axis": null},
"text": {"field": "ref"}}},
{"data": {"name": "txBest"}, "transform": [{"filter": "datum.note === ''"}], "mark": {"type": "text", "align": "center", "baseline": "middle", "font": "Liberation Serif", "fontSize": 12.2, "fontWeight": "bold"}, "encoding": {
"x": {"field": "c", "type": "quantitative", "scale": {"domain": [-1, 0, 1, 2, 3, 4], "range": [0, 8, 155, 274, 422, 500], "nice": false, "zero": false}, "axis": null},
"y": {"field": "r", "type": "quantitative", "scale": {"domain": [-2, -1, 0, 1, 2, 3, 4, 5, 6, 7, 8, 9, 10, 11], "range": [5, 24, 49, 60, 73, 86, 97, 108, 120, 134, 144, 156, 170, 181], "nice": false, "zero": false}, "axis": null},
"text": {"field": "t"}}},
{"data": {"name": "txBest"}, "transform": [{"filter": "datum.note !== ''"}], "mark": {"type": "text", "align": "right", "baseline": "middle", "font": "Liberation Serif", "fontSize": 12.2, "fontWeight": "bold", "dx": -5.5}, "encoding": {
"x": {"field": "c", "type": "quantitative", "scale": {"domain": [-1, 0, 1, 2, 3, 4], "range": [0, 8, 155, 274, 422, 500], "nice": false, "zero": false}, "axis": null},
"y": {"field": "r", "type": "quantitative", "scale": {"domain": [-2, -1, 0, 1, 2, 3, 4, 5, 6, 7, 8, 9, 10, 11], "range": [5, 24, 49, 60, 73, 86, 97, 108, 120, 134, 144, 156, 170, 181], "nice": false, "zero": false}, "axis": null},
"text": {"field": "t"}}},
{"data": {"name": "txBest"}, "transform": [{"filter": "datum.note !== ''"}], "mark": {"type": "text", "align": "left", "baseline": "middle", "font": "Liberation Serif", "fontSize": 12.2, "dx": -2.5}, "encoding": {
"x": {"field": "c", "type": "quantitative", "scale": {"domain": [-1, 0, 1, 2, 3, 4], "range": [0, 8, 155, 274, 422, 500], "nice": false, "zero": false}, "axis": null},
"y": {"field": "r", "type": "quantitative", "scale": {"domain": [-2, -1, 0, 1, 2, 3, 4, 5, 6, 7, 8, 9, 10, 11], "range": [5, 24, 49, 60, 73, 86, 97, 108, 120, 134, 144, 156, 170, 181], "nice": false, "zero": false}, "axis": null},
"text": {"field": "note"}}},
{"data": {"name": "one"}, "mark": {"type": "text", "text": "TABLE XI", "align": "center", "baseline": "middle", "font": "Liberation Serif", "fontSize": 16}, "encoding": {
"x": {"datum": 0.5, "type": "quantitative", "scale": {"domain": [0, 1], "range": [0, 500], "nice": false, "zero": false}, "axis": null},
"y": {"datum": -2, "type": "quantitative", "scale": {"domain": [-2, -1, 0, 1, 2, 3, 4, 5, 6, 7, 8, 9], "range": [222, 239, 266, 279.7, 296.3, 309.3, 323, 338.5, 354, 370, 387, 400.3], "nice": false, "zero": false}, "axis": null}}},
{"data": {"name": "one"}, "mark": {"type": "text", "text": "ABSOLUTE ENERGY AND LATENCY UNDER DIFFERENT UPDATE INTERVALS.", "align": "center", "baseline": "middle", "font": "Liberation Serif", "fontSize": 14}, "encoding": {
"x": {"datum": 0.5, "type": "quantitative", "scale": {"domain": [0, 1], "range": [0, 500], "nice": false, "zero": false}, "axis": null},
"y": {"datum": -1, "type": "quantitative", "scale": {"domain": [-2, -1, 0, 1, 2, 3, 4, 5, 6, 7, 8, 9], "range": [222, 239, 266, 279.7, 296.3, 309.3, 323, 338.5, 354, 370, 387, 400.3], "nice": false, "zero": false}, "axis": null}}},
{"data": {"name": "t11Rules"}, "transform": [{"filter": "datum.kind === 'midrule'"}], "mark": {"type": "rule", "color": "black", "strokeWidth": 0.8}, "encoding": {
"y": {"field": "r", "type": "quantitative", "scale": {"domain": [-2, -1, 0, 1, 2, 3, 4, 5, 6, 7, 8, 9], "range": [222, 239, 266, 279.7, 296.3, 309.3, 323, 338.5, 354, 370, 387, 400.3], "nice": false, "zero": false}, "axis": null},
"x": {"datum": -1, "type": "quantitative", "scale": {"domain": [-1, 0, 1, 2, 3, 4, 5], "range": [0, 10, 145, 253.7, 348.7, 447, 499], "nice": false, "zero": false}, "axis": null},
"x2": {"datum": 5}}},
{"data": {"name": "t11Rules"}, "transform": [{"filter": "datum.kind !== 'midrule'"}], "mark": {"type": "rule", "color": "black", "strokeWidth": 1.6}, "encoding": {
"y": {"field": "r", "type": "quantitative", "scale": {"domain": [-2, -1, 0, 1, 2, 3, 4, 5, 6, 7, 8, 9], "range": [222, 239, 266, 279.7, 296.3, 309.3, 323, 338.5, 354, 370, 387, 400.3], "nice": false, "zero": false}, "axis": null},
"x": {"datum": -1, "type": "quantitative", "scale": {"domain": [-1, 0, 1, 2, 3, 4, 5], "range": [0, 10, 145, 253.7, 348.7, 447, 499], "nice": false, "zero": false}, "axis": null},
"x2": {"datum": 5}}},
{"data": {"name": "t11Head"}, "transform": [{"filter": "datum.c === 0"}], "mark": {"type": "text", "align": "left", "baseline": "middle", "font": "Liberation Serif", "fontSize": 14.5, "fontWeight": "bold"}, "encoding": {
"x": {"field": "c", "type": "quantitative", "scale": {"domain": [-1, 0, 1, 2, 3, 4, 5], "range": [0, 10, 145, 253.7, 348.7, 447, 499], "nice": false, "zero": false}, "axis": null},
"y": {"field": "r", "type": "quantitative", "scale": {"domain": [-2, -1, 0, 1, 2, 3, 4, 5, 6, 7, 8, 9], "range": [222, 239, 266, 279.7, 296.3, 309.3, 323, 338.5, 354, 370, 387, 400.3], "nice": false, "zero": false}, "axis": null},
"text": {"field": "t"}}},
{"data": {"name": "t11Head"}, "transform": [{"filter": "datum.c > 0"}], "mark": {"type": "text", "align": "center", "baseline": "middle", "font": "Liberation Serif", "fontSize": 14.5, "fontWeight": "bold"}, "encoding": {
"x": {"field": "c", "type": "quantitative", "scale": {"domain": [-1, 0, 1, 2, 3, 4, 5], "range": [0, 10, 145, 253.7, 348.7, 447, 499], "nice": false, "zero": false}, "axis": null},
"y": {"field": "r", "type": "quantitative", "scale": {"domain": [-2, -1, 0, 1, 2, 3, 4, 5, 6, 7, 8, 9], "range": [222, 239, 266, 279.7, 296.3, 309.3, 323, 338.5, 354, 370, 387, 400.3], "nice": false, "zero": false}, "axis": null},
"text": {"field": "t"}}},
{"data": {"name": "t11Body"}, "transform": [{"filter": "datum.c === 0"}], "mark": {"type": "text", "align": "left", "baseline": "middle", "font": "Liberation Serif", "fontSize": 14.5}, "encoding": {
"x": {"field": "c", "type": "quantitative", "scale": {"domain": [-1, 0, 1, 2, 3, 4, 5], "range": [0, 10, 145, 253.7, 348.7, 447, 499], "nice": false, "zero": false}, "axis": null},
"y": {"field": "r", "type": "quantitative", "scale": {"domain": [-2, -1, 0, 1, 2, 3, 4, 5, 6, 7, 8, 9], "range": [222, 239, 266, 279.7, 296.3, 309.3, 323, 338.5, 354, 370, 387, 400.3], "nice": false, "zero": false}, "axis": null},
"text": {"field": "t"}}},
{"data": {"name": "t11Body"}, "transform": [{"filter": "datum.c > 0 && !datum.best"}], "mark": {"type": "text", "align": "center", "baseline": "middle", "font": "Liberation Serif", "fontSize": 14.5}, "encoding": {
"x": {"field": "c", "type": "quantitative", "scale": {"domain": [-1, 0, 1, 2, 3, 4, 5], "range": [0, 10, 145, 253.7, 348.7, 447, 499], "nice": false, "zero": false}, "axis": null},
"y": {"field": "r", "type": "quantitative", "scale": {"domain": [-2, -1, 0, 1, 2, 3, 4, 5, 6, 7, 8, 9], "range": [222, 239, 266, 279.7, 296.3, 309.3, 323, 338.5, 354, 370, 387, 400.3], "nice": false, "zero": false}, "axis": null},
"text": {"field": "t"}}},
{"data": {"name": "t11Body"}, "transform": [{"filter": "datum.best"}], "mark": {"type": "text", "align": "center", "baseline": "middle", "font": "Liberation Serif", "fontSize": 14.5, "fontWeight": "bold"}, "encoding": {
"x": {"field": "c", "type": "quantitative", "scale": {"domain": [-1, 0, 1, 2, 3, 4, 5], "range": [0, 10, 145, 253.7, 348.7, 447, 499], "nice": false, "zero": false}, "axis": null},
"y": {"field": "r", "type": "quantitative", "scale": {"domain": [-2, -1, 0, 1, 2, 3, 4, 5, 6, 7, 8, 9], "range": [222, 239, 266, 279.7, 296.3, 309.3, 323, 338.5, 354, 370, 387, 400.3], "nice": false, "zero": false}, "axis": null},
"text": {"field": "t"}}},
{"data": {"name": "para"}, "mark": {"type": "text", "align": "left", "baseline": "middle", "font": "Liberation Serif", "fontSize": 19, "clip": true}, "encoding": {
"x": {"datum": 0, "type": "quantitative", "scale": {"domain": [0, 1], "range": [0, 500], "nice": false, "zero": false}, "axis": null},
"y": {"field": "line", "type": "quantitative", "scale": {"domain": [0, 8], "range": [457, 644], "nice": false, "zero": false}, "axis": null},
"text": {"field": "text"}}}
]
}
],
"config": {
"view": {"stroke": null},
"font": "DejaVu Sans",
"axis": {"labelFont": "DejaVu Sans", "titleFont": "DejaVu Sans", "labelFontSize": 10, "titleFontSize": 9.9, "titleFontWeight": "normal", "labelColor": "#222222", "titleColor": "#222222", "tickColor": "#222222", "domainColor": "#222222", "tickSize": 3.5, "tickWidth": 0.8, "labelPadding": 2, "grid": false, "labelFlush": false, "labelOverlap": false, "domainWidth": 1.3},
"title": {"font": "Liberation Serif", "fontWeight": "normal", "color": "black", "subtitleFont": "Liberation Serif", "subtitleColor": "black"}
}
}
